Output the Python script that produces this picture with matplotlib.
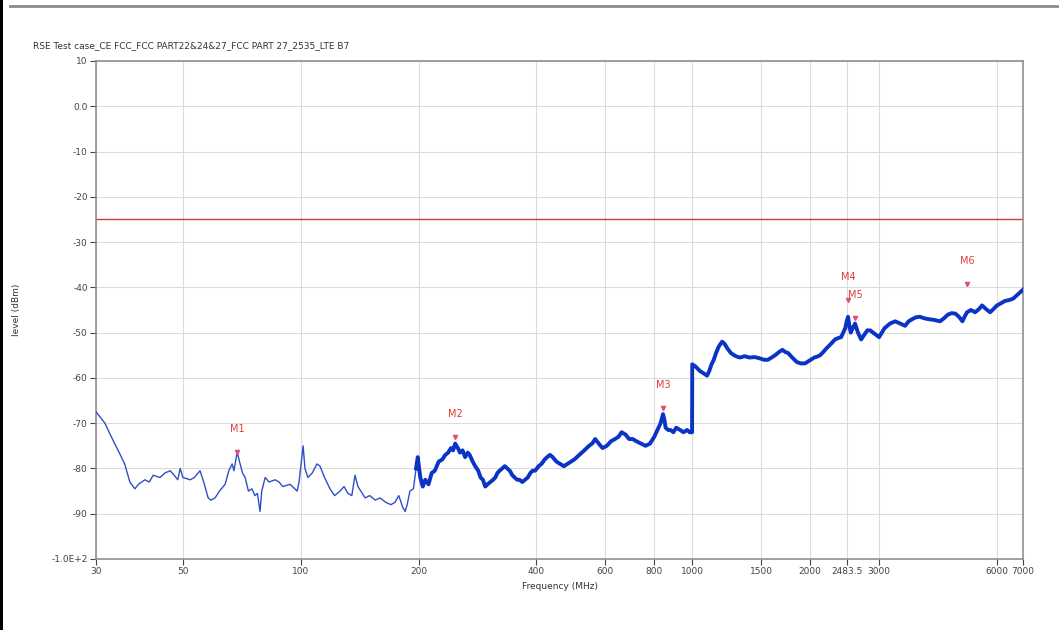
import matplotlib
matplotlib.use("Agg")
import matplotlib.pyplot as plt
from matplotlib.patches import Rectangle
from matplotlib.lines import Line2D

# trace: thin part below ~200 MHz, thick part above
freq_low = [30, 31.6, 32.6, 34.6, 35.5, 36.6, 37.7, 38.5, 40, 41, 42, 43.7, 45, 46.4,
            47.5, 48.5, 49.2, 50, 52.2, 53.5, 55.3, 56.5, 58, 59, 60.4, 62, 64.1, 65.5,
            66.8, 67.5, 68.8, 70, 71, 72.1, 73.5, 75, 76.4, 77.5, 78.7, 79.5, 81.1, 83,
            86, 88, 90, 93.9, 97.9, 99, 101.4, 102.5, 104.3, 107, 110, 112, 115, 118.8,
            122, 126, 129, 132, 135, 137.6, 140, 146, 150, 155, 159.4, 165, 170, 174,
            178, 182, 184.7, 187, 190, 194, 197]
level_low = [-67.5, -70, -72.5, -77, -79, -83, -84.5, -83.5, -82.5, -83, -81.5, -82, -81, -80.5,
             -81.5, -82.5, -80, -82, -82.5, -82, -80.5, -83, -86.5, -87, -86.5, -85, -83.5, -80.5,
             -79, -80.5, -76.4, -79, -81, -82, -85, -84.5, -86, -85.5, -89.5, -85, -82, -83,
             -82.5, -83, -84, -83.5, -85, -83, -75, -80, -82, -81, -79, -79.5, -82, -84.5,
             -86, -85, -84, -85.5, -86, -81.5, -84, -86.5, -86, -87, -86.5, -87.5, -88, -87.5,
             -86, -88.5, -89.5, -88, -85, -84.5, -80]

freq_high = [197, 199, 202, 205, 208, 212, 216, 220, 225, 230, 234, 238, 242, 245, 248, 252,
             255, 259, 263, 267, 270, 275, 279, 284, 288, 292, 296, 300, 305, 310, 314, 318,
             322, 327, 332, 337, 342, 347, 352, 357, 362, 368, 374, 380, 386, 391, 397, 405,
             412, 420, 426, 433, 440, 450, 460, 470, 480, 490, 500, 515, 530, 545, 555, 565,
             577, 590, 605, 620, 635, 648, 660, 675, 690, 705, 720, 740, 760, 780, 800, 815,
             830, 842, 850, 855, 868, 880, 895, 910, 931, 950, 970, 985, 999,
             1000, 1020, 1047, 1070, 1091, 1105, 1120, 1135, 1150, 1170, 1192, 1210, 1230,
             1255, 1280, 1300, 1325, 1360, 1400, 1445, 1490, 1525, 1560, 1595, 1628, 1665,
             1700, 1730, 1757, 1800, 1850, 1895, 1941, 1990, 2050, 2085, 2121, 2160, 2200,
             2260, 2316, 2360, 2400, 2430, 2460, 2480, 2500, 2520, 2540, 2570, 2605, 2650,
             2700, 2750, 2800, 2850, 2896, 2950, 3000, 3050, 3100, 3200, 3297, 3400, 3496,
             3570, 3650, 3730, 3819, 3900, 4000, 4150, 4295, 4400, 4500, 4600, 4700, 4800,
             4900, 4960, 5034, 5150, 5277, 5400, 5500, 5630, 5764, 5880, 6000, 6150, 6294,
             6450, 6600, 6800, 7000]
level_high = [-80, -77.5, -82, -84, -82.5, -83.5, -81, -80.5, -78.5, -78, -77, -76.5, -75.5, -76, -74.5, -75.5,
              -76.5, -76, -77.5, -76.5, -77, -78.5, -79.5, -80.5, -82, -82.5, -84, -83.5, -83, -82.5, -82, -81,
              -80.5, -80, -79.5, -80, -80.5, -81.5, -82, -82.5, -82.5, -83, -82.5, -82, -81, -80.5, -80.5, -79.5,
              -79, -78, -77.5, -77, -77.5, -78.5, -79, -79.5, -79, -78.5, -78, -77, -76, -75, -74.5, -73.5,
              -74.5, -75.5, -75, -74, -73.5, -73, -72, -72.5, -73.5, -73.5, -74, -74.5, -75, -74.5, -73, -71.5,
              -70, -68, -69.5, -71, -71.5, -71.5, -72, -71, -71.5, -72, -71.5, -72, -72,
              -57, -57.5, -58.5, -59, -59.5, -58.5, -57, -56, -54.5, -53, -52, -52.5, -53.5,
              -54.5, -55, -55.3, -55.5, -55.2, -55.5, -55.4, -55.7, -56, -56, -55.5, -55, -54.3,
              -53.8, -54.3, -54.5, -55.5, -56.5, -56.8, -56.8, -56.2, -55.5, -55.3, -55, -54.3, -53.5,
              -52.5, -51.5, -51.2, -51, -50, -49, -47.5, -46.5, -48.5, -50, -49, -48, -50,
              -51.5, -50.5, -49.5, -49.5, -50, -50.5, -51, -50, -49, -48, -47.5, -48, -48.5,
              -47.5, -47, -46.6, -46.5, -46.8, -47, -47.2, -47.5, -46.8, -46, -45.7, -45.8, -46.5,
              -47.5, -46.5, -45.5, -45, -45.5, -44.8, -44, -44.8, -45.5, -44.8, -44, -43.5, -43,
              -42.8, -42.5, -41.5, -40.5]

limit_level = -25

marker_names = ["M1", "M2", "M3", "M4", "M5", "M6"]
marker_freq = [68.8, 248, 842, 2500, 2605, 5034]
marker_level = [-76.4, -73.1, -66.7, -42.8, -46.8, -39.3]

x_ticks = [30, 50, 100, 200, 400, 600, 800, 1000, 1500, 2000, 2483.5, 3000, 6000, 7000]
x_labels = ["30", "50", "100", "200", "400", "600", "800", "1000", "1500", "2000",
            "2483.5", "3000", "6000", "7000"]
y_ticks = [10, 0, -10, -20, -30, -40, -50, -60, -70, -80, -90, -100]
y_labels = ["10", "0.0", "-10", "-20", "-30", "-40", "-50", "-60", "-70", "-80", "-90", "-1.0E+2"]

title = "RSE Test case_CE FCC_FCC PART22&24&27_FCC PART 27_2535_LTE B7"

fig = plt.figure(figsize=(10.59, 6.30), dpi=100)
ax = fig.add_axes([0.0907, 0.1127, 0.8754, 0.7905])

ax.set_xscale("log")
ax.set_xlim(30, 7000)
ax.set_ylim(-100, 10)

ax.plot(freq_low, level_low, color="#2f4fc4", lw=1.0, zorder=3)
ax.plot(freq_high, level_high, color="#0b33c6", lw=2.8, zorder=3)

ax.axhline(limit_level, color="#d23a3a", lw=1.0, zorder=2)

ax.plot(marker_freq, marker_level, linestyle="none", marker="v", ms=3,
        color="#e0507a", zorder=4)
for name, f, lv in zip(marker_names, marker_freq, marker_level):
    ax.annotate(name, (f, lv), xytext=(0, 13), textcoords="offset points",
                ha="center", va="bottom", fontsize=7, color="#e03a3a")

ax.set_xticks(x_ticks)
ax.set_xticklabels(x_labels)
ax.minorticks_off()
ax.set_yticks(y_ticks)
ax.set_yticklabels(y_labels)
ax.tick_params(axis="both", labelsize=6.5, colors="#444444", length=4, width=0.8,
               direction="out", pad=2)
ax.grid(True, color="#dcdcdc", lw=0.8)
ax.set_axisbelow(True)
for sp in ax.spines.values():
    sp.set_color("#909090")
    sp.set_linewidth(1.2)

ax.set_xlabel("Frequency (MHz)", fontsize=6.5, color="#333333", labelpad=4)
ax.set_ylabel("level (dBm)", fontsize=6.5, color="#333333", labelpad=22)
ax.set_title(title, fontsize=6.5, color="#333333", loc="left", x=-0.068, pad=9)

# frame of the original screenshot
fig.add_artist(Rectangle((0, 0), 3 / 1059, 1, transform=fig.transFigure,
                         color="black", lw=0))
fig.add_artist(Line2D([10 / 1059, 1], [1 - 6 / 630, 1 - 6 / 630],
                      transform=fig.transFigure, color="#8a8a8a", lw=2))

fig.savefig("out.png", dpi=100)
